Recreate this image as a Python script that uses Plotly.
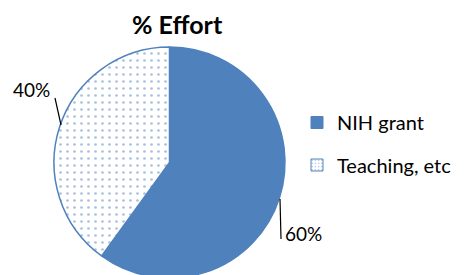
import plotly.graph_objects as go

labels = ["NIH grant", "Teaching, etc"]
values = [60, 40]
colors = ["#4F81BD", "#FFFFFF"]
patterns = ["", "."]
title_text = "% Effort"

W, H = 470, 275
OFF = 8  # page body margin offset


def px(x):
    return (x - OFF) / W


def py(y):
    return 1 - (y - OFF) / H


BLUE = "#4F81BD"
fig = go.Figure()
fig.add_trace(go.Pie(
    labels=labels,
    values=values,
    sort=False,
    direction="clockwise",
    rotation=0,
    textinfo="none",
    hoverinfo="label+percent",
    marker=dict(
        colors=colors,
        line=dict(color=BLUE, width=1.5),
        pattern=dict(shape=patterns, fgcolor=BLUE, bgcolor="#FFFFFF",
                     size=7, solidity=0.12, fillmode="overlay"),
    ),
    domain=dict(x=[px(54), px(285)], y=[py(278), py(47)]),
    showlegend=False,
))

# legend entries (legend-only traces built from the same labels / styles)
for lab, col, pat in zip(labels, colors, patterns):
    fig.add_trace(go.Bar(
        x=[None], y=[None], name=lab, legendgroup=lab,
        marker=dict(color=col, line=dict(color=BLUE, width=1),
                    pattern=dict(shape=pat, fgcolor=BLUE, bgcolor="#FFFFFF",
                                 size=4, solidity=0.2, fillmode="overlay")),
        hoverinfo="skip",
    ))

total = sum(values)
pct = [f"{round(v * 100 / total)}%" for v in values]

fig.add_annotation(text=f"<b>{title_text}</b>", x=px(177), y=py(24), xref="paper", yref="paper",
                   xanchor="center", yanchor="middle",
                   showarrow=False, font=dict(size=25, color="#000", family="Lato"))
fig.add_annotation(text=pct[0], x=px(303), y=py(233), xref="paper", yref="paper",
                   xanchor="center", yanchor="middle",
                   showarrow=False, font=dict(size=19, color="#000", family="Lato"))
fig.add_annotation(text=pct[1], x=px(31), y=py(90), xref="paper", yref="paper",
                   xanchor="center", yanchor="middle",
                   showarrow=False, font=dict(size=19, color="#000", family="Lato"))
fig.add_shape(type="line", xref="paper", yref="paper",
              x0=px(280), y0=py(199), x1=px(281), y1=py(239),
              line=dict(color="#000", width=1.2))
fig.add_shape(type="line", xref="paper", yref="paper",
              x0=px(55), y0=py(98), x1=px(61), y1=py(125),
              line=dict(color="#000", width=1.2))

fig.update_layout(
    width=W, height=H,
    margin=dict(l=0, r=0, t=0, b=0),
    paper_bgcolor="white",
    plot_bgcolor="rgba(0,0,0,0)",
    xaxis=dict(visible=False),
    yaxis=dict(visible=False),
    showlegend=True,
    font=dict(family="Lato", color="#000"),
    legend=dict(x=px(297), y=py(103), xanchor="left", yanchor="top",
                font=dict(size=20, family="Lato"), itemwidth=30,
                tracegroupgap=13.5, bgcolor="rgba(0,0,0,0)"),
)
fig.write_html("out.html")
